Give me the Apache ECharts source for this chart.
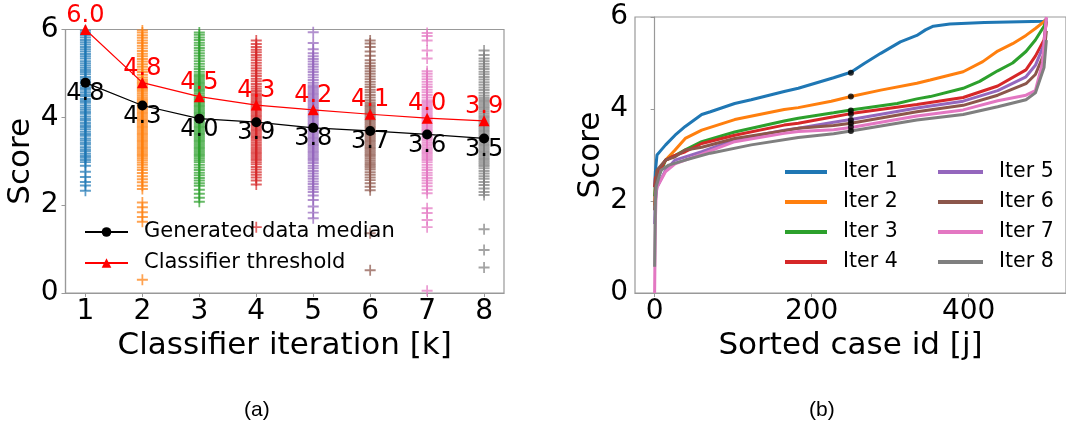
<!DOCTYPE html>
<html><head><meta charset="utf-8">
<script src="https://cdn.jsdelivr.net/npm/echarts@6/dist/echarts.min.js"></script>
<style>html,body{margin:0;padding:0;background:#fff}#c{width:1066px;height:436px}</style>
</head><body><div id="c"></div>
<script>
// ---------- data ----------
const iterations = [1, 2, 3, 4, 5, 6, 7, 8];
const scoresIt1 = [2.33,2.45,2.53,2.64,2.76,2.9,2.98,3.03,3.08,3.12,3.17,3.23,3.27,3.32,3.38,3.42,3.47,3.52,3.58,3.62,3.67,3.73,3.78,3.82,3.87,3.93,3.97,4.02,4.08,4.12,4.17,4.22,4.27,4.33,4.37,4.42,4.48,4.52,4.57,4.63,4.67,4.72,4.78,4.82,4.87,4.92,4.98,5.03,5.08,5.13,5.18,5.23,5.28,5.34,5.39,5.44,5.5,5.55,5.6,5.66,5.71,5.76,5.82,5.87,5.92,5.97];
const scoresIt2 = [0.3,1.62,1.73,1.84,1.95,2.06,2.37,2.44,2.52,2.59,2.66,2.73,2.8,2.86,2.92,2.97,3.02,3.06,3.1,3.14,3.18,3.22,3.26,3.3,3.34,3.38,3.42,3.46,3.5,3.54,3.58,3.62,3.66,3.7,3.74,3.78,3.82,3.86,3.9,3.94,3.98,4.02,4.06,4.1,4.14,4.18,4.22,4.26,4.3,4.34,4.38,4.42,4.46,4.5,4.54,4.58,4.62,4.66,4.7,4.74,4.78,4.82,4.86,4.91,4.97,5.03,5.09,5.15,5.21,5.27,5.33,5.39,5.45,5.51,5.57,5.63,5.69,5.75,5.81,5.87,5.93,5.98];
const scoresIt3 = [2.08,2.17,2.26,2.35,2.44,2.5,2.56,2.62,2.68,2.74,2.8,2.86,2.92,2.98,3.02,3.06,3.1,3.14,3.18,3.22,3.26,3.3,3.34,3.38,3.42,3.46,3.5,3.54,3.58,3.62,3.66,3.7,3.74,3.78,3.82,3.86,3.9,3.94,3.98,4.02,4.06,4.1,4.14,4.18,4.22,4.26,4.3,4.34,4.38,4.42,4.46,4.5,4.54,4.58,4.62,4.66,4.7,4.74,4.78,4.82,4.86,4.9,4.94,4.98,5.04,5.1,5.16,5.22,5.28,5.34,5.4,5.46,5.52,5.58,5.64,5.7,5.76,5.82,5.88,5.93];
const scoresIt4 = [1.5,2.47,2.56,2.63,2.69,2.75,2.81,2.87,2.93,2.98,3.03,3.07,3.11,3.15,3.19,3.23,3.27,3.31,3.35,3.39,3.43,3.47,3.51,3.55,3.59,3.63,3.67,3.71,3.75,3.79,3.83,3.87,3.91,3.95,3.99,4.03,4.07,4.11,4.15,4.19,4.23,4.27,4.31,4.35,4.39,4.43,4.47,4.51,4.55,4.6,4.65,4.7,4.76,4.82,4.88,4.94,5.0,5.06,5.12,5.18,5.24,5.3,5.36,5.42,5.48,5.54,5.6,5.67,5.75];
const scoresIt5 = [1.7,1.83,1.97,2.12,2.22,2.3,2.36,2.42,2.48,2.54,2.6,2.66,2.72,2.78,2.84,2.9,2.96,3.01,3.05,3.09,3.13,3.17,3.21,3.25,3.29,3.33,3.37,3.41,3.45,3.49,3.53,3.57,3.61,3.65,3.69,3.73,3.77,3.81,3.85,3.89,3.93,3.97,4.01,4.05,4.09,4.13,4.17,4.21,4.25,4.29,4.33,4.37,4.41,4.45,4.49,4.53,4.57,4.61,4.65,4.69,4.73,4.79,4.85,4.91,4.97,5.03,5.09,5.15,5.21,5.27,5.33,5.39,5.46,5.55,5.69,5.94];
const scoresIt6 = [0.52,1.36,2.34,2.42,2.5,2.57,2.63,2.69,2.75,2.81,2.86,2.9,2.94,2.98,3.02,3.06,3.1,3.14,3.18,3.22,3.26,3.3,3.34,3.38,3.42,3.46,3.5,3.54,3.58,3.62,3.66,3.7,3.74,3.78,3.82,3.86,3.9,3.94,3.98,4.02,4.06,4.1,4.14,4.18,4.22,4.26,4.3,4.34,4.39,4.45,4.51,4.57,4.63,4.69,4.75,4.81,4.87,4.93,4.99,5.05,5.11,5.17,5.23,5.3,5.4,5.5,5.6,5.68,5.75];
const scoresIt7 = [0.05,1.5,1.66,1.82,1.93,2.27,2.35,2.43,2.5,2.56,2.62,2.68,2.74,2.8,2.86,2.92,2.98,3.03,3.07,3.11,3.15,3.19,3.23,3.27,3.31,3.35,3.39,3.43,3.47,3.51,3.55,3.59,3.63,3.67,3.71,3.75,3.79,3.83,3.87,3.91,3.95,3.99,4.03,4.07,4.11,4.15,4.19,4.23,4.27,4.31,4.35,4.39,4.45,4.51,4.57,4.63,4.69,4.75,4.81,4.87,4.93,4.99,5.05,5.34,5.52,5.75,5.85,5.92];
const scoresIt8 = [0.58,0.98,1.45,2.23,2.3,2.38,2.46,2.53,2.6,2.66,2.72,2.78,2.84,2.89,2.93,2.97,3.01,3.05,3.09,3.13,3.17,3.21,3.25,3.29,3.33,3.37,3.41,3.45,3.49,3.53,3.57,3.61,3.65,3.69,3.73,3.77,3.81,3.85,3.89,3.93,3.97,4.01,4.05,4.09,4.13,4.17,4.21,4.25,4.29,4.33,4.37,4.41,4.45,4.5,4.56,4.62,4.68,4.74,4.8,4.86,4.92,4.98,5.04,5.1,5.16,5.22,5.28,5.34,5.42,5.52];
const medians = [4.79, 4.27, 3.97, 3.89, 3.76, 3.69, 3.61, 3.52];
const thresholds = [6.0, 4.79, 4.47, 4.28, 4.17, 4.07, 3.98, 3.92];

// sorted curves (case id j, score)
const curveIt1 = [[0,2.3],[1,2.65],[3,3.0],[8,3.1],[14,3.22],[26,3.43],[39,3.62],[60,3.88],[71,3.94],[102,4.12],[123,4.2],[165,4.38],[183,4.45],[228,4.68],[250,4.8],[267,4.99],[288,5.21],[313,5.46],[334,5.6],[345,5.72],[355,5.8],[376,5.85],[420,5.88],[496,5.91],[499,5.95]];
const curveIt2 = [[0,1.9],[1,2.3],[3,2.6],[14,2.89],[26,3.11],[39,3.36],[60,3.54],[102,3.77],[165,3.99],[183,4.03],[225,4.17],[250,4.27],[288,4.41],[334,4.56],[351,4.63],[393,4.81],[418,5.03],[437,5.26],[456,5.42],[473,5.6],[485,5.75],[496,5.9],[499,5.95]];
const curveIt3 = [[0,2.1],[1,2.35],[3,2.46],[14,2.89],[26,2.99],[39,3.11],[60,3.29],[102,3.5],[165,3.74],[183,3.8],[228,3.92],[250,3.98],[309,4.12],[334,4.22],[351,4.27],[393,4.45],[414,4.6],[437,4.83],[456,5.0],[473,5.25],[485,5.5],[496,5.8],[499,5.92]];
const curveIt4 = [[0,2.3],[1,2.5],[3,2.57],[14,2.89],[26,2.99],[39,3.07],[60,3.25],[102,3.43],[165,3.65],[183,3.69],[228,3.83],[250,3.9],[334,4.1],[393,4.25],[437,4.5],[473,4.85],[485,5.15],[496,5.5],[499,5.9]];
const curveIt5 = [[0,1.5],[1,2.0],[3,2.3],[14,2.67],[26,2.89],[39,2.96],[60,3.07],[102,3.33],[165,3.54],[183,3.58],[228,3.71],[250,3.77],[334,4.02],[393,4.17],[437,4.4],[473,4.7],[485,4.95],[496,5.4],[499,5.98]];
const curveIt6 = [[0,1.8],[1,2.3],[3,2.67],[14,2.89],[26,2.96],[39,3.11],[60,3.17],[102,3.36],[165,3.53],[183,3.58],[228,3.64],[250,3.69],[334,3.94],[393,4.08],[437,4.3],[473,4.55],[485,4.75],[496,5.2],[499,5.7]];
const curveIt7 = [[0,0],[1,1.6],[2,2.2],[3,2.3],[14,2.64],[26,2.81],[39,2.89],[60,3.02],[102,3.29],[165,3.47],[183,3.51],[228,3.55],[250,3.6],[334,3.85],[393,3.98],[437,4.18],[473,4.3],[485,4.4],[494,5.0],[499,6.0]];
const curveIt8 = [[0,0.57],[1,2.0],[2,2.31],[8,2.67],[18,2.78],[39,2.89],[71,3.04],[123,3.22],[183,3.38],[228,3.46],[250,3.52],[334,3.76],[393,3.88],[437,4.05],[473,4.2],[485,4.35],[496,4.9],[499,5.5]];
const medianCaseId = 250;

const xTicksLeft = [1, 2, 3, 4, 5, 6, 7, 8];
const xTicksRight = [0, 200, 400];
const iterNames = ['Iter 1','Iter 2','Iter 3','Iter 4','Iter 5','Iter 6','Iter 7','Iter 8'];
const legendLeft = ['Generated data median', 'Classifier threshold'];
const captions = ['(a)', '(b)'];

// ---------- styling ----------
const colors = ['#1f77b4','#ff7f0e','#2ca02c','#d62728','#9467bd','#8c564b','#e377c2','#7f7f7f'];
const FONT = 'DejaVu Sans';
const AX = '#999999';
const plus = 'path://M4.2,0H5.8V4.1H10V5.9H5.8V10H4.2V5.9H0V4.1H4.2Z';
const scoreLists = [scoresIt1, scoresIt2, scoresIt3, scoresIt4, scoresIt5, scoresIt6, scoresIt7, scoresIt8];
const curves = [curveIt1, curveIt2, curveIt3, curveIt4, curveIt5, curveIt6, curveIt7, curveIt8];

function xAxisBase(gi, min, max, ticks, name) {
  return {
    type: 'value', gridIndex: gi, min: min, max: max,
    name: name, nameLocation: 'middle', nameGap: 35,
    nameTextStyle: { fontFamily: FONT, fontSize: 31, color: '#000' },
    axisLine: { show: true, lineStyle: { color: AX, width: 1.2 } },
    axisTick: { show: true, length: 4, customValues: ticks, lineStyle: { color: AX } },
    axisLabel: { customValues: ticks, fontFamily: FONT, fontSize: 28, color: '#000', margin: 5 },
    splitLine: { show: false }
  };
}
function yAxisBase(gi, gap) {
  return {
    type: 'value', gridIndex: gi, min: 0, max: 6, interval: 2,
    name: 'Score', nameLocation: 'middle', nameGap: gap,
    nameTextStyle: { fontFamily: FONT, fontSize: 31, color: '#000' },
    axisLine: { show: true, lineStyle: { color: AX, width: 1.2 } },
    axisTick: { show: true, length: 4, lineStyle: { color: AX } },
    axisLabel: { fontFamily: FONT, fontSize: 28, color: '#000', margin: 7 },
    splitLine: { show: false }
  };
}

const series = [];
scoreLists.forEach((arr, i) => {
  series.push({
    type: 'scatter', name: 'k' + iterations[i], xAxisIndex: 0, yAxisIndex: 0,
    symbol: plus, symbolSize: 11,
    itemStyle: { color: colors[i], opacity: 0.72 },
    data: arr.map(v => [iterations[i], v]), z: 2, silent: true
  });
});
series.push({
  type: 'line', name: legendLeft[0], xAxisIndex: 0, yAxisIndex: 0,
  data: iterations.map((k, i) => [k, medians[i]]),
  symbol: 'circle', symbolSize: 10, showSymbol: true,
  lineStyle: { color: '#000', width: 1.2 }, itemStyle: { color: '#000' },
  label: { show: true, position: 'inside', offset: [0, 11], formatter: p => p.value[1].toFixed(1),
    fontFamily: FONT, fontSize: 24, color: '#000' },
  z: 5
});
series.push({
  type: 'line', name: legendLeft[1], xAxisIndex: 0, yAxisIndex: 0,
  data: iterations.map((k, i) => [k, thresholds[i]]),
  symbol: 'triangle', symbolSize: 11, showSymbol: true,
  lineStyle: { color: '#ff0000', width: 1.2 }, itemStyle: { color: '#ff0000' },
  label: { show: true, position: 'inside', offset: [0, -14], formatter: p => p.value[1].toFixed(1),
    fontFamily: FONT, fontSize: 24, color: '#ff0000' },
  clip: false, z: 5
});
curves.forEach((c, i) => {
  series.push({
    type: 'line', name: iterNames[i], xAxisIndex: 1, yAxisIndex: 1,
    data: c, symbol: 'none', showSymbol: false,
    lineStyle: { color: colors[i], width: 3 }, itemStyle: { color: colors[i] }, z: 3
  });
});
series.push({
  type: 'scatter', name: 'med', xAxisIndex: 1, yAxisIndex: 1,
  data: medians.map(v => [medianCaseId, v]), symbol: 'circle', symbolSize: 6,
  itemStyle: { color: '#000' }, z: 6, silent: true
});

const legText = { fontFamily: FONT, fontSize: 21, color: '#000', lineHeight: 21, padding: [0, 0, 0, 11] };
const iterLegText = Object.assign({}, legText, { fontSize: 20.5 });
const iterLegendData = iterNames.map(n => ({ name: n, icon: 'rect' }));
const chart = echarts.init(document.getElementById('c'), null, { renderer: 'canvas' });
chart.setOption({
  backgroundColor: '#fff',
  animation: false,
  grid: [
    { left: 65.5, top: 29.5, width: 438.5, height: 263.5, show: true, borderColor: AX, borderWidth: 1.2, backgroundColor: 'transparent' },
    { left: 635, top: 17, width: 437, height: 276, show: true, borderColor: AX, borderWidth: 1.2, backgroundColor: 'transparent' }
  ],
  xAxis: [
    xAxisBase(0, 0.65, 8.35, xTicksLeft, 'Classifier iteration [k]'),
    xAxisBase(1, -25, 524, xTicksRight, 'Sorted case id [j]')
  ],
  yAxis: [ yAxisBase(0, 27), yAxisBase(1, 27) ],
  legend: [
    { data: legendLeft, orient: 'vertical', left: 84, top: 221.5, padding: 0, itemGap: 10,
      itemWidth: 43, itemHeight: 12, textStyle: legText },
    { data: iterLegendData.slice(0, 4), orient: 'vertical', left: 785, top: 161.5, padding: 0, itemGap: 9,
      itemWidth: 42, itemHeight: 4, textStyle: iterLegText },
    { data: iterLegendData.slice(4), orient: 'vertical', left: 938, top: 161.5, padding: 0, itemGap: 9,
      itemWidth: 45, itemHeight: 4, textStyle: iterLegText }
  ],
  graphic: [
    { type: 'text', left: 244, top: 400, style: { text: captions[0], font: '21px "Liberation Sans"', fill: '#000' } },
    { type: 'text', left: 809, top: 400, style: { text: captions[1], font: '21px "Liberation Sans"', fill: '#000' } }
  ],
  series: series
});
</script></body></html>
